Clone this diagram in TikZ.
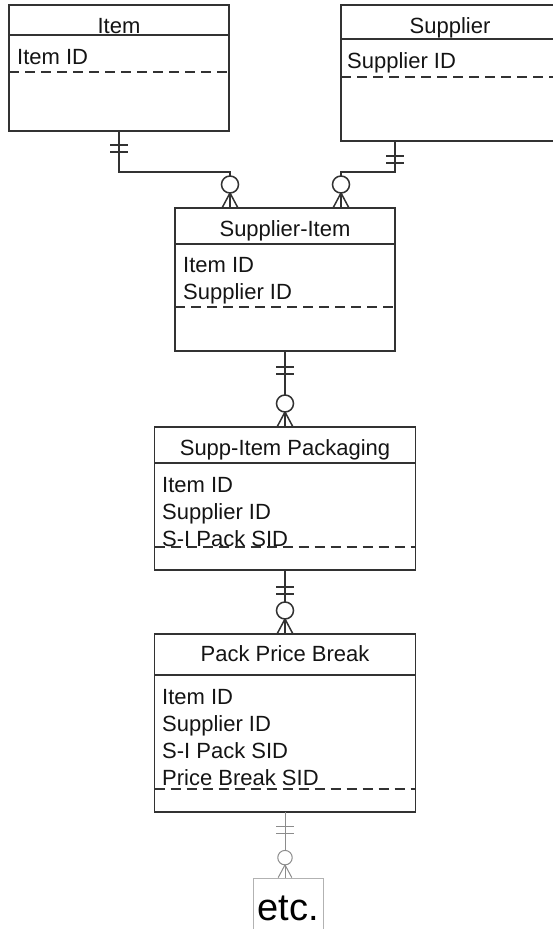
\documentclass[tikz,border=0pt]{standalone}
\usepackage{fontspec}
\setmainfont{Liberation Sans}
\definecolor{linegray}{RGB}{50,50,50}
\definecolor{textgray}{RGB}{20,20,20}
\begin{document}
\begin{tikzpicture}[x=1pt, y=-1pt,
    entity/.style={draw=linegray, line width=1.6pt, rectangle, inner sep=0pt, outer sep=0pt},
    title/.style={font=\fontsize{22}{27}\selectfont, text=textgray, anchor=base, inner sep=0pt},
    attr/.style={font=\fontsize{22}{27}\selectfont, text=textgray, anchor=north west, align=left, inner sep=0pt},
    sep/.style={draw=linegray, line width=1.6pt},
    keyline/.style={draw=linegray, line width=1.6pt, dash pattern=on 10pt off 6pt},
    link/.style={color=linegray, line width=1.5pt},
    faint/.style={color=black!45, line width=1pt},
    bars/.pic={\draw (-9,0) -- (9,0) (-9,7) -- (9,7);},
    crow/.pic={\draw[fill=white] (0,-23.5) circle[radius=8.5pt]; \draw (0,-15) -- (-8,0) (0,-15) -- (8,0);}
]
\useasboundingbox (0,0) rectangle (553,929);

% Entities
\node[entity, minimum width=220pt, minimum height=126pt] (item) at (119,68) {};
\node[entity, minimum width=218pt, minimum height=136pt] (supplier) at (450,73) {};
\node[entity, minimum width=220pt, minimum height=143pt] (supitem) at (285,279.5) {};
\node[entity, minimum width=261pt, minimum height=143pt] (pack) at (285,498.5) {};
\node[entity, minimum width=261pt, minimum height=178pt] (price) at (285,723) {};
\node[draw=black!30, line width=0.8pt, inner sep=0pt, minimum width=70pt, text height=42pt, text depth=22pt,
      font=\fontsize{38}{40}\selectfont, anchor=base] (etc) at (288,920) {etc.};

% Titles
\node[title] (item-t) at (119,33) {Item};
\node[title] (supplier-t) at (450,33) {Supplier};
\node[title] (supitem-t) at (285,236) {Supplier-Item};
\node[title] (pack-t) at (285,455) {Supp-Item Packaging};
\node[title] (price-t) at (285,661) {Pack Price Break};

% Keys
\node[attr] (item-a) at (17,49) {Item ID};
\node[attr] (supplier-a) at (347,52) {Supplier ID};
\node[attr] (supitem-a) at (183,257) {Item ID\\Supplier ID};
\node[attr] (pack-a) at (162,477) {Item ID\\Supplier ID\\S-I Pack SID};
\node[attr] (price-a) at (162,689) {Item ID\\Supplier ID\\S-I Pack SID\\Price Break SID};

% Title and key separators
\draw[sep] ([yshift=-30pt]item.north west) -- ([yshift=-30pt]item.north east);
\draw[keyline] ([yshift=-67pt]item.north west) -- ([yshift=-67pt]item.north east);
\draw[sep] ([yshift=-34pt]supplier.north west) -- ([yshift=-34pt]supplier.north east);
\draw[keyline] ([yshift=-72pt]supplier.north west) -- ([yshift=-72pt]supplier.north east);
\draw[sep] ([yshift=-36pt]supitem.north west) -- ([yshift=-36pt]supitem.north east);
\draw[keyline] ([yshift=-99pt]supitem.north west) -- ([yshift=-99pt]supitem.north east);
\draw[sep] ([yshift=-36pt]pack.north west) -- ([yshift=-36pt]pack.north east);
\draw[keyline] ([yshift=-120pt]pack.north west) -- ([yshift=-120pt]pack.north east);
\draw[sep] ([yshift=-41pt]price.north west) -- ([yshift=-41pt]price.north east);
\draw[keyline] ([yshift=-155pt]price.north west) -- ([yshift=-155pt]price.north east);

% Relationships
\coordinate (ibend) at (230,172);
\coordinate (sbend) at (341,172);
\coordinate (sdrop) at (supplier.south -| supitem.east);
\coordinate (ifoot) at (ibend |- supitem.north);
\coordinate (sfoot) at (sbend |- supitem.north);
\coordinate (efoot) at (price.south |- etc.north);

\draw[link] (item.south) |- (ibend) -- (ifoot);
\draw[link] (sdrop) |- (sbend) -- (sfoot);
\draw[link] (supitem.south) -- (pack.north);
\draw[link] (pack.south) -- (price.north);
\draw[faint] (price.south) -- (efoot);

\pic[link] at ([yshift=-14pt]item.south) {bars};
\pic[link] at ([yshift=-15pt]sdrop) {bars};
\pic[link] at ([yshift=-16pt]supitem.south) {bars};
\pic[link] at ([yshift=-17pt]pack.south) {bars};
\pic[faint] at ([yshift=-14pt]price.south) {bars};

\pic[link] at (ifoot) {crow};
\pic[link] at (sfoot) {crow};
\pic[link] at (pack.north) {crow};
\pic[link] at (price.north) {crow};
\pic[faint, scale=0.85] at (efoot) {crow};

\end{tikzpicture}
\end{document}
